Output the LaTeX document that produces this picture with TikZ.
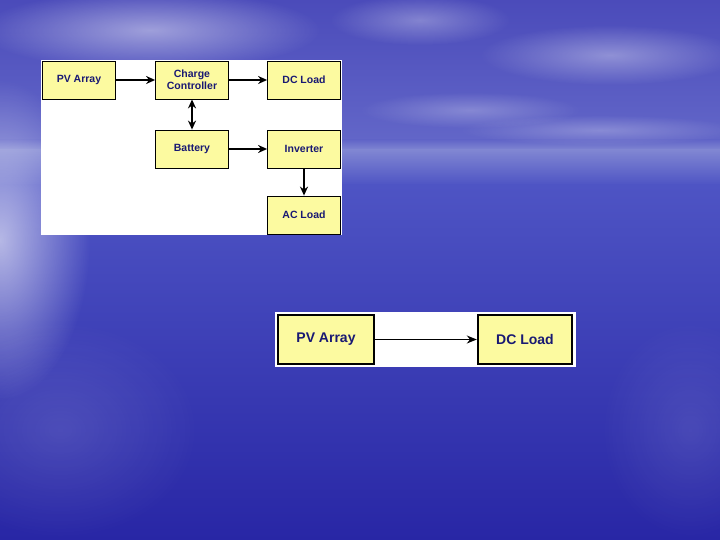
\documentclass[tikz,border=0pt]{standalone}
\usepackage{fontspec}
\setmainfont{Liberation Sans}
\usetikzlibrary{arrows.meta,fadings}
\tikzfading[name=softglow, inner color=transparent!0, outer color=transparent!100]
\definecolor{boxyellow}{RGB}{252,250,160}
\definecolor{navytext}{RGB}{25,25,115}
\definecolor{skytop}{RGB}{75,75,186}
\definecolor{skylow}{RGB}{98,102,200}
\definecolor{haze}{RGB}{128,134,210}
\definecolor{seatop}{RGB}{78,84,196}
\definecolor{seabot}{RGB}{40,38,165}
\tikzset{
  box/.style={draw=black, line width=0.8pt, fill=boxyellow, text=navytext,
    font=\bfseries\fontsize{10.5}{12}\selectfont, align=center, inner sep=0pt,
    minimum width=73pt, minimum height=38pt},
  bigbox/.style={draw=black, line width=2.4pt, fill=boxyellow, text=navytext,
    font=\bfseries\fontsize{14}{16}\selectfont, align=center, inner sep=0pt,
    minimum height=49pt},
  conn/.style={line width=1.8pt, -{Stealth[length=9pt,width=8pt]}},
  dconn/.style={line width=1.8pt, {Stealth[length=9pt,width=8pt]}-{Stealth[length=9pt,width=8pt]}},
  thinconn/.style={line width=1.4pt, -{Stealth[length=10pt,width=8pt]}},
  cloud/.style={white, path fading=softglow}
}
\begin{document}
\begin{tikzpicture}[x=1pt,y=-1pt]
\useasboundingbox (0,0) rectangle (720,540);
% background
\shade[top color=skytop, bottom color=skylow] (0,0) rectangle (720,140);
\shade[top color=skylow, bottom color=haze] (0,140) rectangle (720,150);
\shade[top color=haze, bottom color=seatop] (0,150) rectangle (720,185);
\shade[top color=seatop, bottom color=seabot] (0,185) rectangle (720,540);
% clouds and glare
\fill[cloud, opacity=0.45] (150,30) ellipse (170 and 40);
\fill[cloud, opacity=0.3] (420,20) ellipse (90 and 25);
\fill[cloud, opacity=0.35] (610,55) ellipse (130 and 30);
\fill[cloud, opacity=0.25] (470,110) ellipse (110 and 18);
\fill[cloud, opacity=0.25] (600,130) ellipse (140 and 15);
\fill[cloud, opacity=0.6] (0,240) ellipse (90 and 160);
\fill[cloud, opacity=0.12] (60,430) ellipse (140 and 110);
\fill[cloud, opacity=0.1] (690,430) ellipse (90 and 110);
% top diagram
\node[fill=white, minimum width=301pt, minimum height=175pt, inner sep=0pt] (panel1) at (191.5,147.5) {};
\node[box] (pv) at (79,80) {PV Array};
\node[box] (cc) at (192,80) {Charge\\Controller};
\node[box] (dc) at (304,80) {DC Load};
\node[box] (bat) at (192,149) {Battery};
\node[box] (inv) at (304,149) {Inverter};
\node[box] (ac) at (304,215) {AC Load};
\draw[conn] (pv) -- (cc);
\draw[conn] (cc) -- (dc);
\draw[dconn] (cc) -- (bat);
\draw[conn] (bat) -- (inv);
\draw[conn] (inv) -- (ac);
% bottom diagram
\node[fill=white, minimum width=301pt, minimum height=55pt, inner sep=0pt] (panel2) at (425.5,339.5) {};
\node[bigbox, minimum width=96pt] (pv2) at (326,339.5) {PV Array};
\node[bigbox, minimum width=94pt] (dc2) at (525,339.5) {DC Load};
\draw[thinconn] (pv2) -- (dc2);
\end{tikzpicture}
\end{document}
